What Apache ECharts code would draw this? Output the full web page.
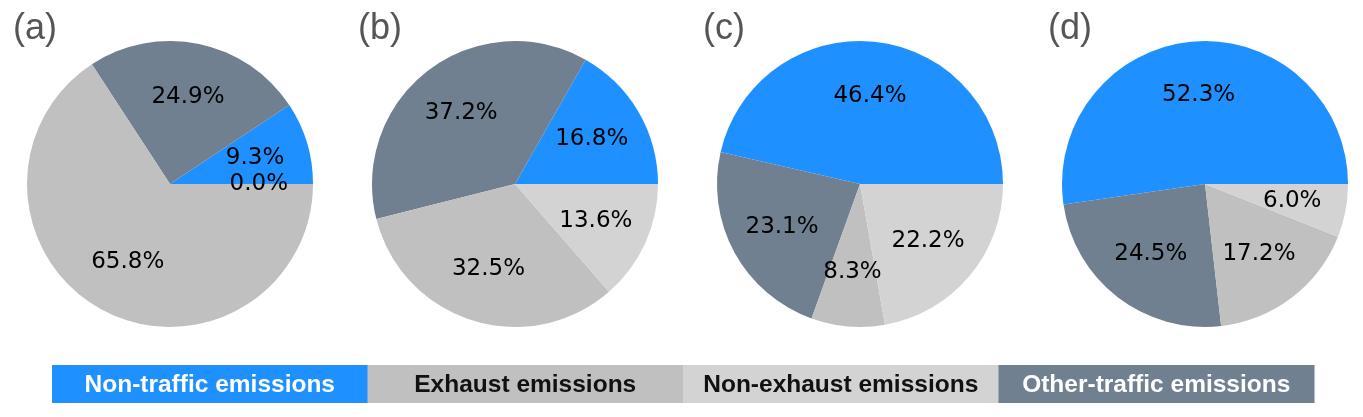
<!DOCTYPE html>
<html>
<head>
<meta charset="utf-8">
<script src="https://cdn.jsdelivr.net/npm/echarts@6/dist/echarts.min.js"></script>
<style>
  html, body { margin: 0; padding: 0; background: #ffffff; }
  #chart { width: 1363px; height: 417px; }
</style>
</head>
<body>
<div id="chart"></div>
<script>
// Categories in drawing order (counter-clockwise from 3 o'clock)
const categories = ['Non-traffic emissions', 'Other-traffic emissions', 'Exhaust emissions', 'Non-exhaust emissions'];
const categoryColors = ['#1E90FF', '#708090', '#C0C0C0', '#D3D3D3'];
// Legend order as shown in the bar at the bottom
const legendOrder = ['Non-traffic emissions', 'Exhaust emissions', 'Non-exhaust emissions', 'Other-traffic emissions'];
const legendTextColors = ['#ffffff', '#111111', '#111111', '#ffffff'];
const panelLabels = ['(a)', '(b)', '(c)', '(d)'];
// Percentage values per panel, in category order
const panelA = [9.3, 24.9, 65.8, 0.0];
const panelB = [16.8, 37.2, 32.5, 13.6];
const panelC = [46.4, 23.1, 8.3, 22.2];
const panelD = [52.3, 24.5, 17.2, 6.0];
const panels = [panelA, panelB, panelC, panelD];

const chart = echarts.init(document.getElementById('chart'), null, { renderer: 'canvas' });

const R = 143;
const centersX = [170, 515, 860, 1205];
const centerY = 184;

const series = [];
panels.forEach((vals, p) => {
  const data = vals.map((v, i) => ({ name: categories[i], value: v, itemStyle: { color: categoryColors[i] } }));
  series.push({
    type: 'pie',
    center: [centersX[p], centerY],
    radius: [0, R],
    startAngle: 0,
    clockwise: false,
    silent: true,
    animation: false,
    label: { show: false },
    labelLine: { show: false },
    itemStyle: { borderWidth: 0 },
    data: data
  });
  // label-only ring so labels sit at 0.6 * radius
  series.push({
    type: 'pie',
    center: [centersX[p], centerY],
    radius: [0.2 * R, R],
    startAngle: 0,
    clockwise: false,
    silent: true,
    animation: false,
    minShowLabelAngle: 0,
    itemStyle: { color: 'rgba(0,0,0,0)', borderWidth: 0 },
    label: {
      show: true,
      position: 'inside',
      formatter: (prm) => prm.value.toFixed(1) + '%',
      fontFamily: 'DejaVu Sans',
      fontSize: 23,
      color: '#000000'
    },
    labelLine: { show: false },
    data: vals.map((v, i) => ({ name: categories[i], value: v }))
  });
});

const titles = panelLabels.map((t, p) => ({
  text: t,
  left: centersX[p] - 157,
  top: 11,
  padding: 0,
  textStyle: { fontFamily: 'Liberation Sans', fontSize: 36, fontWeight: 'normal', color: '#555555' }
}));

const legendX0 = 52, legendX1 = 1314, legendY = 365, legendH = 38;
const segW = (legendX1 - legendX0) / legendOrder.length;
const graphics = [];
legendOrder.forEach((name, i) => {
  const ci = categories.indexOf(name);
  graphics.push({
    type: 'rect',
    shape: { x: legendX0 + i * segW, y: legendY, width: segW + 0.5, height: legendH },
    style: { fill: categoryColors[ci] },
    silent: true
  });
  graphics.push({
    type: 'text',
    x: legendX0 + i * segW + segW / 2,
    y: legendY + legendH / 2 + 1,
    style: {
      text: name,
      align: 'center',
      verticalAlign: 'middle',
      fontFamily: 'Liberation Sans',
      fontWeight: 'bold',
      fontSize: 24.5,
      fill: legendTextColors[i]
    },
    silent: true
  });
});

chart.setOption({
  backgroundColor: '#ffffff',
  animation: false,
  title: titles,
  series: series,
  graphic: graphics
});
</script>
</body>
</html>
